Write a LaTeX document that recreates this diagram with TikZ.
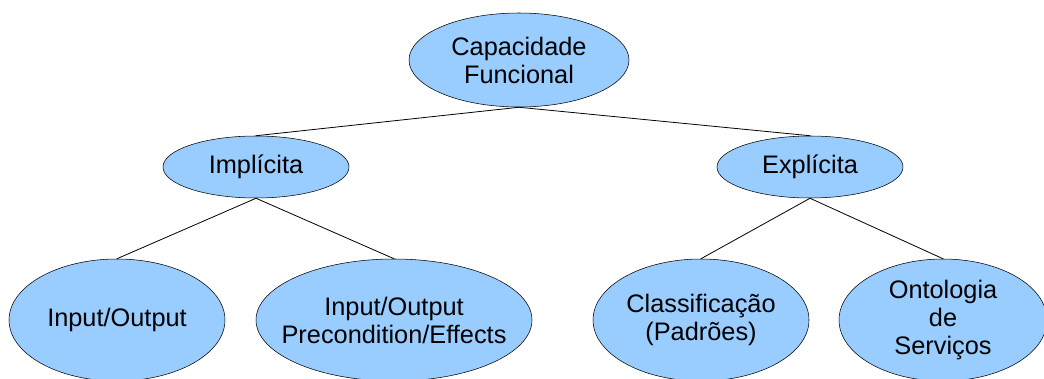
\documentclass[tikz,border=0pt]{standalone}
\usepackage{fontspec}
\setmainfont{Liberation Sans}
\usetikzlibrary{shapes.geometric}
\definecolor{azulclaro}{HTML}{99CCFF}
\begin{document}
\begin{tikzpicture}[x=0.75pt,y=-0.75pt,
	elip/.style={ellipse, draw=black, fill=azulclaro, inner sep=0pt, align=center,
		font=\fontsize{19pt}{21pt}\selectfont},
	liga/.style={draw=black, line width=0.6pt}]
				\useasboundingbox (0,0) rectangle (1044,378);
				\node[elip, minimum width=165pt, minimum height=70.5pt] (cap) at (519,60){Capacidade\\Funcional};
				\node[elip, minimum width=139.5pt, minimum height=46.5pt] (imp) at (256,167){Implícita};
				\node[elip, minimum width=139.5pt, minimum height=46.5pt] (exp) at (810,167){Explícita};
				\node[elip, minimum width=162pt, minimum height=91.5pt] (io) at (117,320){Input/Output};
				\node[elip, inner xsep=-30pt, minimum width=207pt, minimum height=91.5pt] (iope) at (394,320){Input/Output\\Precondition/Effects};
				\node[elip, minimum width=162pt, minimum height=91.5pt] (cla) at (701,320){Classificação\\(Padrões)};
				\node[elip, minimum width=156pt, minimum height=91.5pt] (ont) at (943,320){Ontologia\\de\\Serviços};
				\draw[liga](cap.south)--(imp.north);
				\draw[liga](cap.south)--(exp.north);
				\draw[liga](imp.south)--(io.north);
				\draw[liga](imp.south)--(iope.north);
				\draw[liga](exp.south)--(cla.north);
				\draw[liga](exp.south)--(ont.north);
\end{tikzpicture}
\end{document}
